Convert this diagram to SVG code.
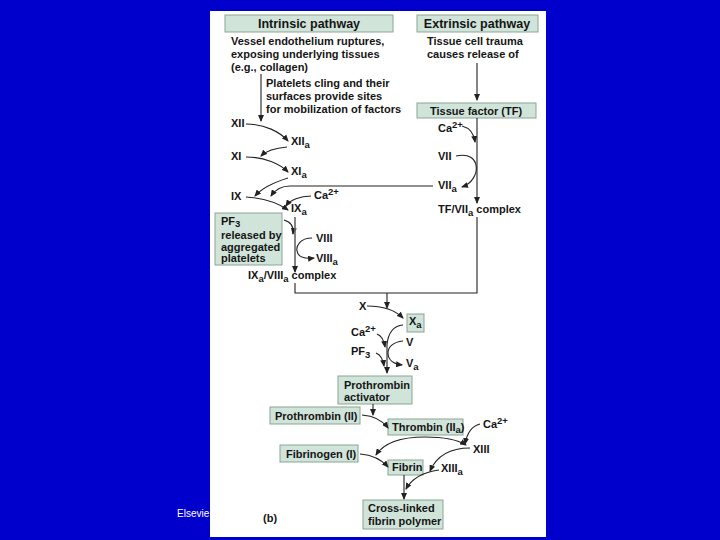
<svg xmlns="http://www.w3.org/2000/svg" width="720" height="540" viewBox="0 0 720 540">
<style>
.t{font-family:"Liberation Sans",Arial,sans-serif;font-weight:bold;font-size:11px;fill:#151515}
.h{font-size:12.5px}
.s{font-size:9.5px}
.box{fill:#d0e4da;stroke:#8aa596;stroke-width:1}
.ln{fill:none;stroke:#222;stroke-width:1.1}
.gl{fill:none;stroke:#666;stroke-width:1.6}
</style>
<defs>
<marker id="ah" markerUnits="userSpaceOnUse" markerWidth="7" markerHeight="6" refX="6" refY="3" orient="auto"><path d="M0,0 L7,3 L0,6 z" fill="#222"/></marker>
<marker id="ahs" markerUnits="userSpaceOnUse" markerWidth="7" markerHeight="6" refX="6" refY="3" orient="auto-start-reverse"><path d="M0,0 L7,3 L0,6 z" fill="#222"/></marker>
</defs>
<rect width="720" height="540" fill="#0000cc"/>
<text x="177" y="517" font-family="Liberation Sans,Arial,sans-serif" font-size="10" fill="#fff">Elsevie</text>
<rect x="210" y="11" width="336" height="526" fill="#fff"/>

<g id="intrinsic-header"><rect class="box" x="225" y="15" width="168" height="17"/><text class="t h" x="309" y="28" text-anchor="middle">Intrinsic pathway</text></g>
<g id="extrinsic-header"><rect class="box" x="417" y="15" width="121" height="17"/><text class="t h" x="477" y="28" text-anchor="middle">Extrinsic pathway</text></g>
<g id="vessel"><text class="t" x="231" y="45">Vessel endothelium ruptures,</text><text class="t" x="231" y="58">exposing underlying tissues</text><text class="t" x="231" y="71">(e.g., collagen)</text></g>
<g id="trauma"><text class="t" x="427" y="45">Tissue cell trauma</text><text class="t" x="427" y="58">causes release of</text></g>
<g id="platelets"><text class="t" x="266" y="87">Platelets cling and their</text><text class="t" x="266" y="100">surfaces provide sites</text><text class="t" x="266" y="113">for mobilization of factors</text></g>
<g id="tf"><rect class="box" x="417" y="103" width="119" height="15"/><text class="t" x="476" y="114.5" text-anchor="middle">Tissue factor (TF)</text></g>
<g id="xii"><text class="t" x="231" y="127">XII</text></g>
<g id="xiia"><text class="t" x="291" y="145">XII<tspan class="s" dy="3">a</tspan></text></g>
<g id="xi"><text class="t" x="231" y="160">XI</text></g>
<g id="xia"><text class="t" x="291" y="175">XI<tspan class="s" dy="3">a</tspan></text></g>
<g id="ix"><text class="t" x="231" y="200">IX</text></g>
<g id="ixa"><text class="t" x="291" y="212">IX<tspan class="s" dy="3">a</tspan></text></g>
<g id="ca1"><text class="t" x="314" y="199">Ca<tspan class="s" dy="-4">2+</tspan></text></g>
<g id="ca2"><text class="t" x="438" y="132">Ca<tspan class="s" dy="-4">2+</tspan></text></g>
<g id="vii"><text class="t" x="438" y="160">VII</text></g>
<g id="viia"><text class="t" x="438" y="189">VII<tspan class="s" dy="3">a</tspan></text></g>
<g id="tfviia"><text class="t" x="438" y="213">TF/VII<tspan class="s" dy="3">a</tspan><tspan dy="-3"> complex</tspan></text></g>
<g id="pf3box"><rect class="box" x="215" y="213" width="67" height="52"/><text class="t" x="221" y="225">PF<tspan class="s" dy="2">3</tspan></text><text class="t" x="221" y="239">released by</text><text class="t" x="221" y="251">aggregated</text><text class="t" x="221" y="262">platelets</text></g>
<g id="viii"><text class="t" x="316" y="242">VIII</text></g>
<g id="viiia"><text class="t" x="316" y="262">VIII<tspan class="s" dy="3">a</tspan></text></g>
<g id="ixviii"><text class="t" x="248" y="279">IX<tspan class="s" dy="3">a</tspan><tspan dy="-3">/VIII</tspan><tspan class="s" dy="3">a</tspan><tspan dy="-3"> complex</tspan></text></g>
<g id="x"><text class="t" x="359" y="310">X</text></g>
<g id="xa"><rect class="box" x="407" y="314" width="17" height="18"/><text class="t" x="409" y="325">X<tspan class="s" dy="3">a</tspan></text></g>
<g id="ca3"><text class="t" x="351" y="336">Ca<tspan class="s" dy="-4">2+</tspan></text></g>
<g id="pf3"><text class="t" x="351" y="355">PF<tspan class="s" dy="3">3</tspan></text></g>
<g id="v"><text class="t" x="406" y="346">V</text></g>
<g id="va"><text class="t" x="406" y="367">V<tspan class="s" dy="3">a</tspan></text></g>
<g id="activator"><rect class="box" x="338" y="376" width="74" height="28"/><text class="t" x="344" y="389">Prothrombin</text><text class="t" x="344" y="401">activator</text></g>
<g id="prothrombin"><rect class="box" x="270" y="407" width="90" height="17"/><text class="t" x="275" y="419.5">Prothrombin (II)</text></g>
<g id="thrombin"><rect class="box" x="388" y="419" width="75" height="16"/><text class="t" x="392" y="431">Thrombin (II<tspan class="s" dy="2">a</tspan><tspan dy="-2">)</tspan></text></g>
<g id="ca4"><text class="t" x="483" y="428">Ca<tspan class="s" dy="-4">2+</tspan></text></g>
<g id="xiii"><text class="t" x="473" y="453">XIII</text></g>
<g id="xiiia"><text class="t" x="441" y="472">XIII<tspan class="s" dy="3">a</tspan></text></g>
<g id="fibrinogen"><rect class="box" x="280" y="445" width="78" height="17"/><text class="t" x="286" y="457.5">Fibrinogen (I)</text></g>
<g id="fibrin"><rect class="box" x="388" y="460" width="35" height="15"/><text class="t" x="392" y="471">Fibrin</text></g>
<g id="polymer"><rect class="box" x="363" y="500" width="80" height="29"/><text class="t" x="368" y="512">Cross-linked</text><text class="t" x="368" y="525">fibrin polymer</text></g>
<g id="label-b"><text class="t" x="263" y="522">(b)</text></g>

<g id="connectors">
<path class="ln" d="M477,63 L477,100" marker-end="url(#ah)"/>
<path class="ln" d="M261,74 L261,121" marker-end="url(#ah)"/>
<path class="ln" d="M246,124 C265,124 280,132 288,141" marker-end="url(#ah)"/>
<path class="ln" d="M287,147 C275,148 266,151 261,156" marker-end="url(#ah)"/>
<path class="ln" d="M246,157 C265,157 280,164 288,172" marker-end="url(#ah)"/>
<path class="ln" d="M288,178 C275,182 262,188 255,196" marker-end="url(#ah)"/>
<path class="ln" d="M246,197 C262,198 278,203 288,210" marker-end="url(#ah)"/>
<path class="ln" d="M311,196 C300,196 290,200 286,206" marker-end="url(#ah)"/>
<path class="ln" d="M433,186 L290,186 C282,186 275,190 271,196" marker-end="url(#ah)"/>
<path class="ln" d="M477,118 L477,203" marker-end="url(#ah)"/>
<path class="ln" d="M462,126 C470,128 474,134 475,142" marker-end="url(#ah)"/>
<path class="ln" d="M456,156 C482,150 482,180 462,187" marker-end="url(#ah)"/>
<path class="ln" d="M284,220 C291,222 294,227 293,234" marker-end="url(#ah)"/>
<path class="gl" d="M295,217 L295,272" marker-end="url(#ah)"/>
<path class="ln" d="M312,238 C300,238 296,246 297,251 C298,257 305,259 314,258" marker-end="url(#ah)"/>
<path class="ln" d="M295,283 L295,293 L477,293 L477,217"/>
<path class="ln" d="M387,293 L387,308" marker-end="url(#ah)"/>
<path class="ln" d="M367,306 C385,306 396,311 403,318" marker-end="url(#ah)"/>
<path class="ln" d="M403,325 C392,326 388,334 387,345 L387,373" marker-end="url(#ah)"/>
<path class="ln" d="M377,334 C382,336 384,340 385,347" marker-end="url(#ah)"/>
<path class="ln" d="M376,353 C381,355 383,359 384,366" marker-end="url(#ah)"/>
<path class="ln" d="M403,341 C393,342 388,347 388,353 C388,360 394,364 402,365" marker-end="url(#ah)"/>
<path class="ln" d="M373,404 L373,415" marker-end="url(#ah)"/>
<path class="ln" d="M362,415 C375,416 383,421 388,428" marker-end="url(#ah)"/>
<path class="ln" d="M480,424 C472,426 467,433 465,444" marker-end="url(#ah)"/>
<path class="ln" d="M376,455 C385,441 405,437 425,437 C445,437 458,440 466,445" marker-start="url(#ahs)" marker-end="url(#ahs)"/>
<path class="ln" d="M470,448 C450,448 437,455 430,471" marker-end="url(#ah)"/>
<path class="ln" d="M439,470 C425,472 412,478 406,489" marker-end="url(#ah)"/>
<path class="ln" d="M360,454 C373,455 382,460 388,467" marker-end="url(#ah)"/>
<path class="ln" d="M404,475 L404,499" marker-end="url(#ah)"/>
</g>
</svg>
